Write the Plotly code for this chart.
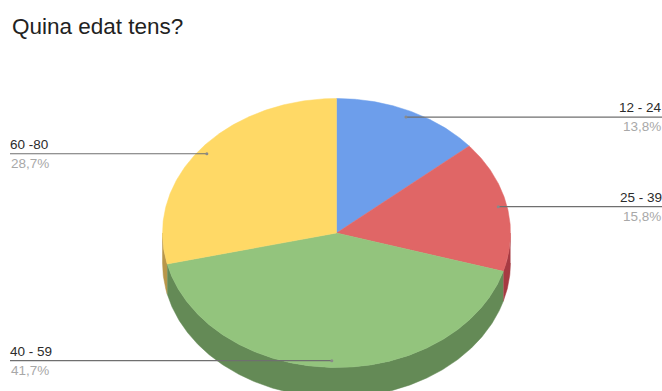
import numpy as np
import plotly.graph_objects as go

# Survey answers: age bands and their shares
categories = ["12 - 24", "25 - 39", "40 - 59", "60 -80"]
values = [13.8, 15.8, 41.7, 28.7]
percent_labels = ["13,8%", "15,8%", "41,7%", "28,7%"]
top_colors = ["#6d9eeb", "#e06666", "#93c47d", "#ffd966"]
side_colors = ["#4f74ad", "#a63a42", "#648a56", "#b8964a"]
title_text = "Quina edat tens?"

WIDTH, HEIGHT = 662, 391
CX, CY = 336.5, 233.0   # centre of the tilted top face
RX, RY = 174.0, 134.5   # radii of the tilted top face
DEPTH = 30.0            # height of the disc wall
LEADER_R = 0.95         # leader anchor, as a fraction of the radius

# Leader end x and label alignment for each slice
label_side = ["right", "right", "left", "left"]
LEFT_X, RIGHT_X = 10, 662


def rim(a0, a1, dy=0.0):
    """Points along the rim between two clockwise-from-top angles in degrees."""
    t = np.radians(np.linspace(a0, a1, max(int(abs(a1 - a0)) * 2, 2)))
    return CX + RX * np.sin(t), CY - RY * np.cos(t) + dy


total = sum(values)
edges = np.concatenate([[0], np.cumsum(values)]) / total * 360

fig = go.Figure()

# Disc wall: only the front half (90° to 270°) is visible
for i in range(len(values)):
    a0, a1 = max(edges[i], 90), min(edges[i + 1], 270)
    if a1 <= a0:
        continue
    x_top, y_top = rim(a0, a1)
    x_bot, y_bot = rim(a1, a0, DEPTH)
    fig.add_trace(go.Scatter(
        x=np.concatenate([x_top, x_bot]), y=np.concatenate([y_top, y_bot]),
        mode="lines", fill="toself", fillcolor=side_colors[i],
        line=dict(color=side_colors[i], width=0.5), hoverinfo="skip",
    ))

# Top face slices
for i, name in enumerate(categories):
    x_arc, y_arc = rim(edges[i], edges[i + 1])
    fig.add_trace(go.Scatter(
        x=np.concatenate([[CX], x_arc, [CX]]), y=np.concatenate([[CY], y_arc, [CY]]),
        mode="lines", fill="toself", fillcolor=top_colors[i],
        line=dict(color=top_colors[i], width=0.5), name=name, hoverinfo="name",
    ))

# Leader lines and their two-line labels
for i, name in enumerate(categories):
    mid = (edges[i] + edges[i + 1]) / 2
    ax = CX + LEADER_R * RX * np.sin(np.radians(mid))
    ay = CY - LEADER_R * RY * np.cos(np.radians(mid))
    end = RIGHT_X if label_side[i] == "right" else LEFT_X
    fig.add_trace(go.Scatter(
        x=[end, ax], y=[ay, ay], mode="lines",
        line=dict(color="#6f6f6f", width=1.2), hoverinfo="skip",
    ))
    fig.add_trace(go.Scatter(
        x=[ax], y=[ay], mode="markers",
        marker=dict(color="#8a8a8a", size=3), hoverinfo="skip",
    ))
    anchor = "right" if label_side[i] == "right" else "left"
    fig.add_annotation(x=end, y=ay - 2, text=name, showarrow=False, xanchor=anchor,
                       yanchor="bottom", font=dict(color="#2b2b2b", size=13.5),
                       borderpad=0, borderwidth=0)
    fig.add_annotation(x=end, y=ay + 1, text=percent_labels[i], showarrow=False, xanchor=anchor,
                       yanchor="top", font=dict(color="#a8a8a8", size=13.5), borderpad=0)

fig.add_annotation(x=9.5, y=26, text=title_text, showarrow=False, xanchor="left", yanchor="middle",
                   font=dict(color="#222222", size=22.5))

fig.update_layout(
    width=WIDTH, height=HEIGHT, margin=dict(l=0, r=0, t=0, b=0),
    paper_bgcolor="white", plot_bgcolor="white", showlegend=False,
    font=dict(family="Liberation Sans, Arial, sans-serif"),
    xaxis=dict(range=[0, WIDTH], visible=False, fixedrange=True),
    yaxis=dict(range=[HEIGHT, 0], visible=False, fixedrange=True),
)

fig.write_html("out.html", config={"displayModeBar": False})
